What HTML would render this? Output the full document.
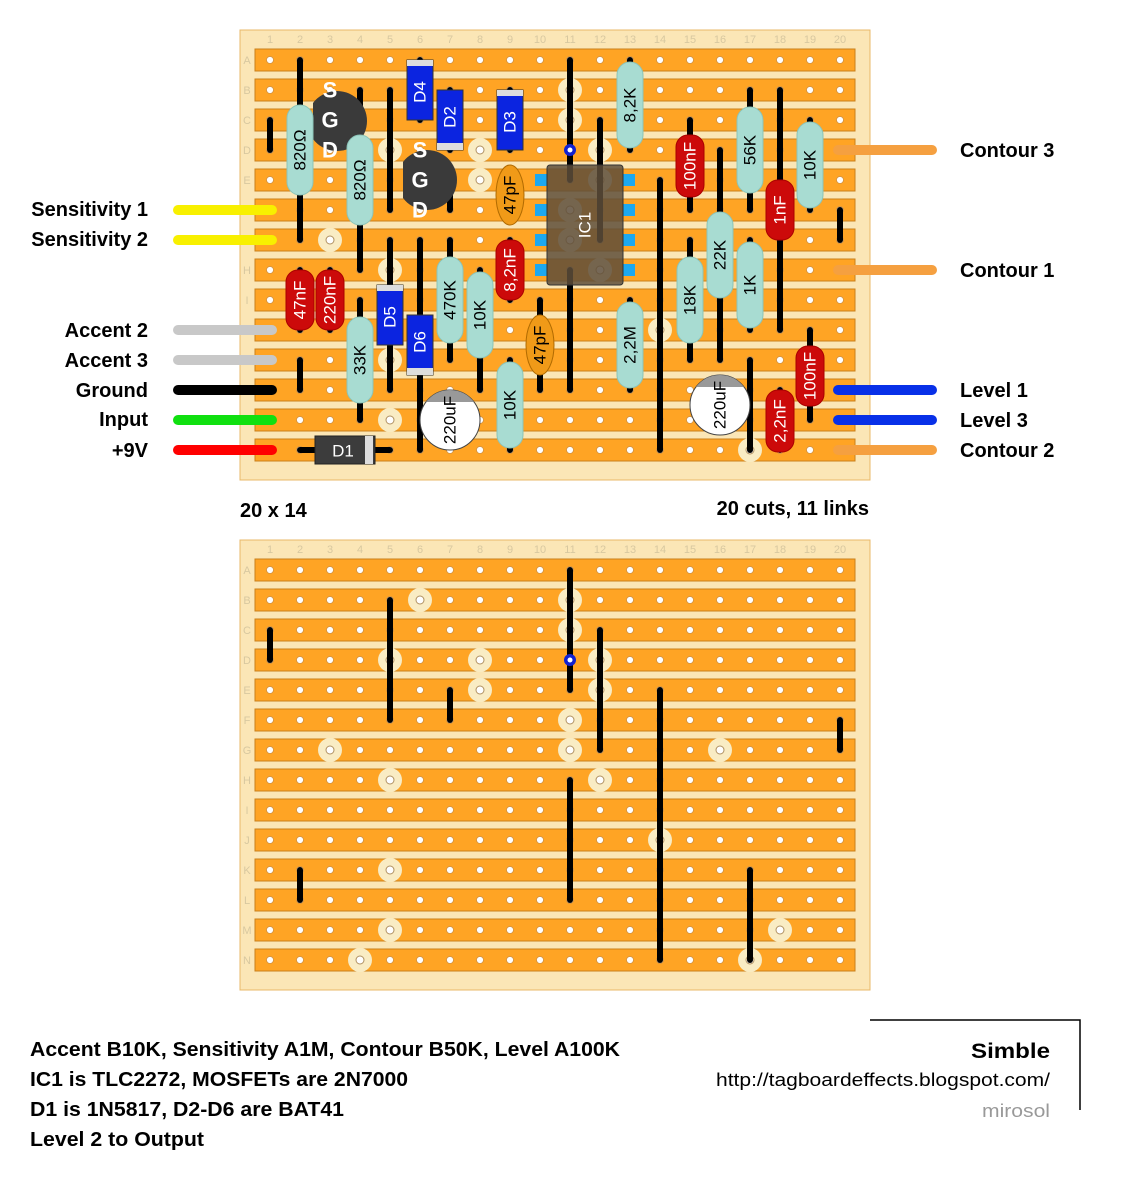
<!DOCTYPE html>
<html><head><meta charset="utf-8"><style>
html,body{margin:0;padding:0;background:#fff;}
svg{display:block;}
text{font-family:"Liberation Sans",sans-serif;}
.lb{font-size:20px;font-weight:bold;fill:#000;}
.cn{font-size:11px;fill:#d8c8a0;text-anchor:middle;}
.rl{font-size:17px;fill:#000;text-anchor:middle;dominant-baseline:central;}
.wl{font-size:17px;fill:#fff;text-anchor:middle;dominant-baseline:central;}
.lk{stroke:#000;stroke-width:6;stroke-linecap:round;}
.rs{fill:#a8dcd2;stroke:#8cc4b8;stroke-width:1;}
.cap{fill:#cc0a0a;stroke:#a00;stroke-width:1;}
</style></head><body>
<svg width="1121" height="1178" viewBox="0 0 1121 1178" xmlns="http://www.w3.org/2000/svg">
<defs>
<pattern id="holes" x="255" y="45" width="30" height="30" patternUnits="userSpaceOnUse">
<circle cx="15" cy="15" r="3.5" fill="#fff" stroke="#d09040" stroke-width="0.8"/>
</pattern>
<g id="strips">
<rect x="255" y="49" width="600" height="22"/><rect x="255" y="79" width="600" height="22"/>
<rect x="255" y="109" width="600" height="22"/><rect x="255" y="139" width="600" height="22"/>
<rect x="255" y="169" width="600" height="22"/><rect x="255" y="199" width="600" height="22"/>
<rect x="255" y="229" width="600" height="22"/><rect x="255" y="259" width="600" height="22"/>
<rect x="255" y="289" width="600" height="22"/><rect x="255" y="319" width="600" height="22"/>
<rect x="255" y="349" width="600" height="22"/><rect x="255" y="379" width="600" height="22"/>
<rect x="255" y="409" width="600" height="22"/><rect x="255" y="439" width="600" height="22"/>
</g>
<g id="labels">
<text class="cn" x="270" y="43">1</text><text class="cn" x="300" y="43">2</text><text class="cn" x="330" y="43">3</text><text class="cn" x="360" y="43">4</text><text class="cn" x="390" y="43">5</text><text class="cn" x="420" y="43">6</text><text class="cn" x="450" y="43">7</text><text class="cn" x="480" y="43">8</text><text class="cn" x="510" y="43">9</text><text class="cn" x="540" y="43">10</text><text class="cn" x="570" y="43">11</text><text class="cn" x="600" y="43">12</text><text class="cn" x="630" y="43">13</text><text class="cn" x="660" y="43">14</text><text class="cn" x="690" y="43">15</text><text class="cn" x="720" y="43">16</text><text class="cn" x="750" y="43">17</text><text class="cn" x="780" y="43">18</text><text class="cn" x="810" y="43">19</text><text class="cn" x="840" y="43">20</text>
<text class="cn" x="247" y="64">A</text><text class="cn" x="247" y="94">B</text><text class="cn" x="247" y="124">C</text><text class="cn" x="247" y="154">D</text><text class="cn" x="247" y="184">E</text><text class="cn" x="247" y="214">F</text><text class="cn" x="247" y="244">G</text><text class="cn" x="247" y="274">H</text><text class="cn" x="247" y="304">I</text><text class="cn" x="247" y="334">J</text><text class="cn" x="247" y="364">K</text><text class="cn" x="247" y="394">L</text><text class="cn" x="247" y="424">M</text><text class="cn" x="247" y="454">N</text>
</g>
<g id="cuts">
<g fill="#f9ecc4">
<circle cx="420" cy="90" r="12"/><circle cx="570" cy="90" r="12"/><circle cx="570" cy="120" r="12"/>
<circle cx="390" cy="150" r="12"/><circle cx="480" cy="150" r="12"/><circle cx="600" cy="150" r="12"/>
<circle cx="480" cy="180" r="12"/><circle cx="600" cy="180" r="12"/><circle cx="570" cy="210" r="12"/>
<circle cx="330" cy="240" r="12"/><circle cx="570" cy="240" r="12"/><circle cx="720" cy="240" r="12"/>
<circle cx="390" cy="270" r="12"/><circle cx="600" cy="270" r="12"/><circle cx="660" cy="330" r="12"/>
<circle cx="390" cy="360" r="12"/><circle cx="390" cy="420" r="12"/><circle cx="780" cy="420" r="12"/>
<circle cx="360" cy="450" r="12"/><circle cx="750" cy="450" r="12"/>
</g>
<g fill="#fff" stroke="#b09060" stroke-width="1">
<circle cx="420" cy="90" r="4"/><circle cx="570" cy="90" r="4"/><circle cx="570" cy="120" r="4"/>
<circle cx="390" cy="150" r="4"/><circle cx="480" cy="150" r="4"/><circle cx="600" cy="150" r="4"/>
<circle cx="480" cy="180" r="4"/><circle cx="600" cy="180" r="4"/><circle cx="570" cy="210" r="4"/>
<circle cx="330" cy="240" r="4"/><circle cx="570" cy="240" r="4"/><circle cx="720" cy="240" r="4"/>
<circle cx="390" cy="270" r="4"/><circle cx="600" cy="270" r="4"/><circle cx="660" cy="330" r="4"/>
<circle cx="390" cy="360" r="4"/><circle cx="390" cy="420" r="4"/><circle cx="780" cy="420" r="4"/>
<circle cx="360" cy="450" r="4"/><circle cx="750" cy="450" r="4"/>
</g>
</g>
<g id="links">
<line class="lk" x1="570" y1="60" x2="570" y2="180"/><line class="lk" x1="570" y1="270" x2="570" y2="390"/>
<line class="lk" x1="270" y1="120" x2="270" y2="150"/><line class="lk" x1="390" y1="90" x2="390" y2="210"/>
<line class="lk" x1="450" y1="180" x2="450" y2="210"/><line class="lk" x1="600" y1="120" x2="600" y2="240"/>
<line class="lk" x1="660" y1="180" x2="660" y2="450"/><line class="lk" x1="840" y1="210" x2="840" y2="240"/>
<line class="lk" x1="300" y1="360" x2="300" y2="390"/><line class="lk" x1="750" y1="360" x2="750" y2="450"/>
<circle cx="570" cy="150" r="6" fill="#1020d0"/><circle cx="570" cy="150" r="2.5" fill="#fff"/>
</g>
</defs>

<!-- BOARD 1 -->
<rect x="240" y="30" width="630" height="450" fill="#fbe6b6" stroke="#e8b868"/>
<use href="#labels"/>
<g fill="#ffa424" stroke="#c8801c" stroke-width="1"><use href="#strips"/></g>
<rect x="255" y="45" width="600" height="420" fill="url(#holes)"/>
<use href="#cuts"/>
<use href="#links"/>

<!-- component leads -->
<g class="lk">
<line x1="300" y1="60" x2="300" y2="240"/><line x1="360" y1="90" x2="360" y2="270"/>
<line x1="420" y1="60" x2="420" y2="120"/><line x1="450" y1="90" x2="450" y2="150"/>
<line x1="510" y1="90" x2="510" y2="150"/><line x1="630" y1="60" x2="630" y2="150"/>
<line x1="690" y1="120" x2="690" y2="210"/><line x1="750" y1="90" x2="750" y2="210"/>
<line x1="780" y1="90" x2="780" y2="330"/><line x1="810" y1="120" x2="810" y2="210"/>
<line x1="720" y1="150" x2="720" y2="360"/><line x1="690" y1="240" x2="690" y2="360"/>
<line x1="750" y1="240" x2="750" y2="330"/><line x1="630" y1="300" x2="630" y2="390"/>
<line x1="450" y1="240" x2="450" y2="360"/><line x1="480" y1="270" x2="480" y2="390"/>
<line x1="510" y1="240" x2="510" y2="300"/><line x1="540" y1="300" x2="540" y2="390"/>
<line x1="510" y1="360" x2="510" y2="450"/><line x1="390" y1="240" x2="390" y2="390"/>
<line x1="420" y1="240" x2="420" y2="450"/><line x1="360" y1="300" x2="360" y2="420"/>
<line x1="300" y1="270" x2="300" y2="330"/><line x1="330" y1="270" x2="330" y2="330"/>
<line x1="300" y1="450" x2="390" y2="450"/><line x1="810" y1="330" x2="810" y2="420"/>
<line x1="780" y1="390" x2="780" y2="450"/><line x1="720" y1="390" x2="720" y2="420"/>
</g>

<!-- MOSFETs -->
<path d="M313,103 A30,30 0 1 1 313,139 Z" fill="#3a3a3a"/>
<path d="M403,162 A30,30 0 1 1 403,198 Z" fill="#3a3a3a"/>
<g font-size="22" font-weight="bold" fill="#fff" text-anchor="middle" dominant-baseline="central">
<text x="330" y="90">S</text><text x="330" y="120">G</text><text x="330" y="150">D</text>
<text x="420" y="150">S</text><text x="420" y="180">G</text><text x="420" y="210">D</text>
</g>

<!-- resistors -->
<g>
<rect class="rs" x="287" y="105" width="26" height="90" rx="13"/><text class="rl" transform="translate(300,150) rotate(-90)">820Ω</text>
<rect class="rs" x="347" y="135" width="26" height="90" rx="13"/><text class="rl" transform="translate(360,180) rotate(-90)">820Ω</text>
<rect class="rs" x="617" y="62" width="26" height="86" rx="13"/><text class="rl" transform="translate(630,105) rotate(-90)">8,2K</text>
<rect class="rs" x="737" y="107" width="26" height="86" rx="13"/><text class="rl" transform="translate(750,150) rotate(-90)">56K</text>
<rect class="rs" x="797" y="122" width="26" height="86" rx="13"/><text class="rl" transform="translate(810,165) rotate(-90)">10K</text>
<rect class="rs" x="707" y="212" width="26" height="86" rx="13"/><text class="rl" transform="translate(720,255) rotate(-90)">22K</text>
<rect class="rs" x="677" y="257" width="26" height="86" rx="13"/><text class="rl" transform="translate(690,300) rotate(-90)">18K</text>
<rect class="rs" x="737" y="242" width="26" height="86" rx="13"/><text class="rl" transform="translate(750,285) rotate(-90)">1K</text>
<rect class="rs" x="617" y="302" width="26" height="86" rx="13"/><text class="rl" transform="translate(630,345) rotate(-90)">2,2M</text>
<rect class="rs" x="437" y="257" width="26" height="86" rx="13"/><text class="rl" transform="translate(450,300) rotate(-90)">470K</text>
<rect class="rs" x="467" y="272" width="26" height="86" rx="13"/><text class="rl" transform="translate(480,315) rotate(-90)">10K</text>
<rect class="rs" x="497" y="362" width="26" height="86" rx="13"/><text class="rl" transform="translate(510,405) rotate(-90)">10K</text>
<rect class="rs" x="347" y="317" width="26" height="86" rx="13"/><text class="rl" transform="translate(360,360) rotate(-90)">33K</text>
</g>

<!-- red caps -->
<g>
<rect class="cap" x="676" y="135" width="28" height="62" rx="12"/><text class="wl" transform="translate(690,166) rotate(-90)">100nF</text>
<rect class="cap" x="766" y="180" width="28" height="60" rx="12"/><text class="wl" transform="translate(780,210) rotate(-90)">1nF</text>
<rect class="cap" x="496" y="240" width="28" height="60" rx="12"/><text class="wl" transform="translate(510,270) rotate(-90)">8,2nF</text>
<rect class="cap" x="286" y="270" width="28" height="60" rx="12"/><text class="wl" transform="translate(300,300) rotate(-90)">47nF</text>
<rect class="cap" x="316" y="270" width="28" height="60" rx="12"/><text class="wl" transform="translate(330,300) rotate(-90)">220nF</text>
<rect class="cap" x="796" y="346" width="28" height="60" rx="12"/><text class="wl" transform="translate(810,376) rotate(-90)">100nF</text>
<rect class="cap" x="766" y="390" width="28" height="62" rx="12"/><text class="wl" transform="translate(780,421) rotate(-90)">2,2nF</text>
</g>

<!-- 47pF -->
<ellipse cx="510" cy="195" rx="14" ry="30" fill="#f09a18" stroke="#b06a00"/><text class="rl" transform="translate(510,195) rotate(-90)">47pF</text>
<ellipse cx="540" cy="345" rx="14" ry="30" fill="#f09a18" stroke="#b06a00"/><text class="rl" transform="translate(540,345) rotate(-90)">47pF</text>

<!-- diodes -->
<g>
<rect x="407" y="60" width="26" height="60" fill="#0b24e0" stroke="#333"/><rect x="407" y="60" width="26" height="6" fill="#ddd"/><text class="wl" transform="translate(420,92) rotate(-90)">D4</text>
<rect x="437" y="90" width="26" height="60" fill="#0b24e0" stroke="#333"/><rect x="437" y="143" width="26" height="7" fill="#ddd"/><text class="wl" transform="translate(450,117) rotate(-90)">D2</text>
<rect x="497" y="90" width="26" height="60" fill="#0b24e0" stroke="#333"/><rect x="497" y="90" width="26" height="6" fill="#ddd"/><text class="wl" transform="translate(510,122) rotate(-90)">D3</text>
<rect x="377" y="285" width="26" height="60" fill="#0b24e0" stroke="#333"/><rect x="377" y="285" width="26" height="6" fill="#ddd"/><text class="wl" transform="translate(390,317) rotate(-90)">D5</text>
<rect x="407" y="315" width="26" height="60" fill="#0b24e0" stroke="#333"/><rect x="407" y="368" width="26" height="7" fill="#ddd"/><text class="wl" transform="translate(420,342) rotate(-90)">D6</text>
<rect x="315" y="436" width="60" height="28" fill="#3c3c3c" stroke="#222"/><rect x="365" y="436" width="8" height="28" fill="#ddd"/><text class="wl" x="343" y="451">D1</text>
</g>

<!-- electrolytics -->
<g>
<circle cx="450" cy="420" r="30" fill="#fff" stroke="#444"/><path d="M426,402 A30,30 0 0 1 474,402 Z" fill="#999"/><text class="rl" transform="translate(450,420) rotate(-90)">220uF</text>
<circle cx="720" cy="405" r="30" fill="#fff" stroke="#444"/><path d="M696,387 A30,30 0 0 1 744,387 Z" fill="#999"/><text class="rl" transform="translate(720,405) rotate(-90)">220uF</text>
</g>

<!-- IC1 -->
<g>
<rect x="535" y="174" width="12" height="12" fill="#1ea8ee"/><rect x="535" y="204" width="12" height="12" fill="#1ea8ee"/><rect x="535" y="234" width="12" height="12" fill="#1ea8ee"/><rect x="535" y="264" width="12" height="12" fill="#1ea8ee"/>
<rect x="623" y="174" width="12" height="12" fill="#1ea8ee"/><rect x="623" y="204" width="12" height="12" fill="#1ea8ee"/><rect x="623" y="234" width="12" height="12" fill="#1ea8ee"/><rect x="623" y="264" width="12" height="12" fill="#1ea8ee"/>
<rect x="547" y="165" width="76" height="120" rx="3" fill="#5e4e3a" fill-opacity="0.85" stroke="#333"/>
<text class="wl" transform="translate(585,225) rotate(-90)">IC1</text>
</g>

<!-- wires -->
<g stroke-width="10" stroke-linecap="round">
<line x1="178" y1="210" x2="272" y2="210" stroke="#f8f000"/><line x1="178" y1="240" x2="272" y2="240" stroke="#f8f000"/>
<line x1="178" y1="330" x2="272" y2="330" stroke="#c8c8c8"/><line x1="178" y1="360" x2="272" y2="360" stroke="#c8c8c8"/>
<line x1="178" y1="390" x2="272" y2="390" stroke="#000"/><line x1="178" y1="420" x2="272" y2="420" stroke="#10e010"/>
<line x1="178" y1="450" x2="272" y2="450" stroke="#f00"/>
<line x1="838" y1="150" x2="932" y2="150" stroke="#f5a040"/><line x1="838" y1="270" x2="932" y2="270" stroke="#f5a040"/>
<line x1="838" y1="390" x2="932" y2="390" stroke="#0830e8"/><line x1="838" y1="420" x2="932" y2="420" stroke="#0830e8"/>
<line x1="838" y1="450" x2="932" y2="450" stroke="#f5a040"/>
</g>
<g class="lb" text-anchor="end">
<text x="148" y="216">Sensitivity 1</text><text x="148" y="246">Sensitivity 2</text>
<text x="148" y="337">Accent 2</text><text x="148" y="367">Accent 3</text>
<text x="148" y="397">Ground</text><text x="148" y="426">Input</text><text x="148" y="457">+9V</text>
</g>
<g class="lb">
<text x="960" y="157">Contour 3</text><text x="960" y="277">Contour 1</text>
<text x="960" y="397">Level 1</text><text x="960" y="427">Level 3</text><text x="960" y="457">Contour 2</text>
</g>
<text class="lb" x="240" y="517" font-size="19">20 x 14</text>
<text class="lb" x="869" y="515" font-size="19" text-anchor="end">20 cuts, 11 links</text>

<!-- BOARD 2 -->
<g transform="translate(0,510)">
<rect x="240" y="30" width="630" height="450" fill="#fbe6b6" stroke="#e8b868"/>
<use href="#labels"/>
<g fill="#ffa424" stroke="#c8801c" stroke-width="1"><use href="#strips"/></g>
<rect x="255" y="45" width="600" height="420" fill="url(#holes)"/>
<use href="#cuts"/>
<use href="#links"/>
</g>

<!-- footer -->
<g class="lb" font-size="19">
<text x="30" y="1056" textLength="590" lengthAdjust="spacingAndGlyphs">Accent B10K, Sensitivity A1M, Contour B50K, Level A100K</text>
<text x="30" y="1086" textLength="378" lengthAdjust="spacingAndGlyphs">IC1 is TLC2272, MOSFETs are 2N7000</text>
<text x="30" y="1116" textLength="314" lengthAdjust="spacingAndGlyphs">D1 is 1N5817, D2-D6 are BAT41</text>
<text x="30" y="1146" textLength="174" lengthAdjust="spacingAndGlyphs">Level 2 to Output</text>
</g>
<polyline points="870,1020 1080,1020 1080,1110" fill="none" stroke="#000" stroke-width="1.5"/>
<text x="1050" y="1058" text-anchor="end" font-size="21" font-weight="bold" textLength="79" lengthAdjust="spacingAndGlyphs">Simble</text>
<text x="1050" y="1086" text-anchor="end" font-size="18" textLength="334" lengthAdjust="spacingAndGlyphs">http://tagboardeffects.blogspot.com/</text>
<text x="1050" y="1117" text-anchor="end" font-size="18" fill="#999" textLength="68" lengthAdjust="spacingAndGlyphs">mirosol</text>
</svg>
</body></html>
